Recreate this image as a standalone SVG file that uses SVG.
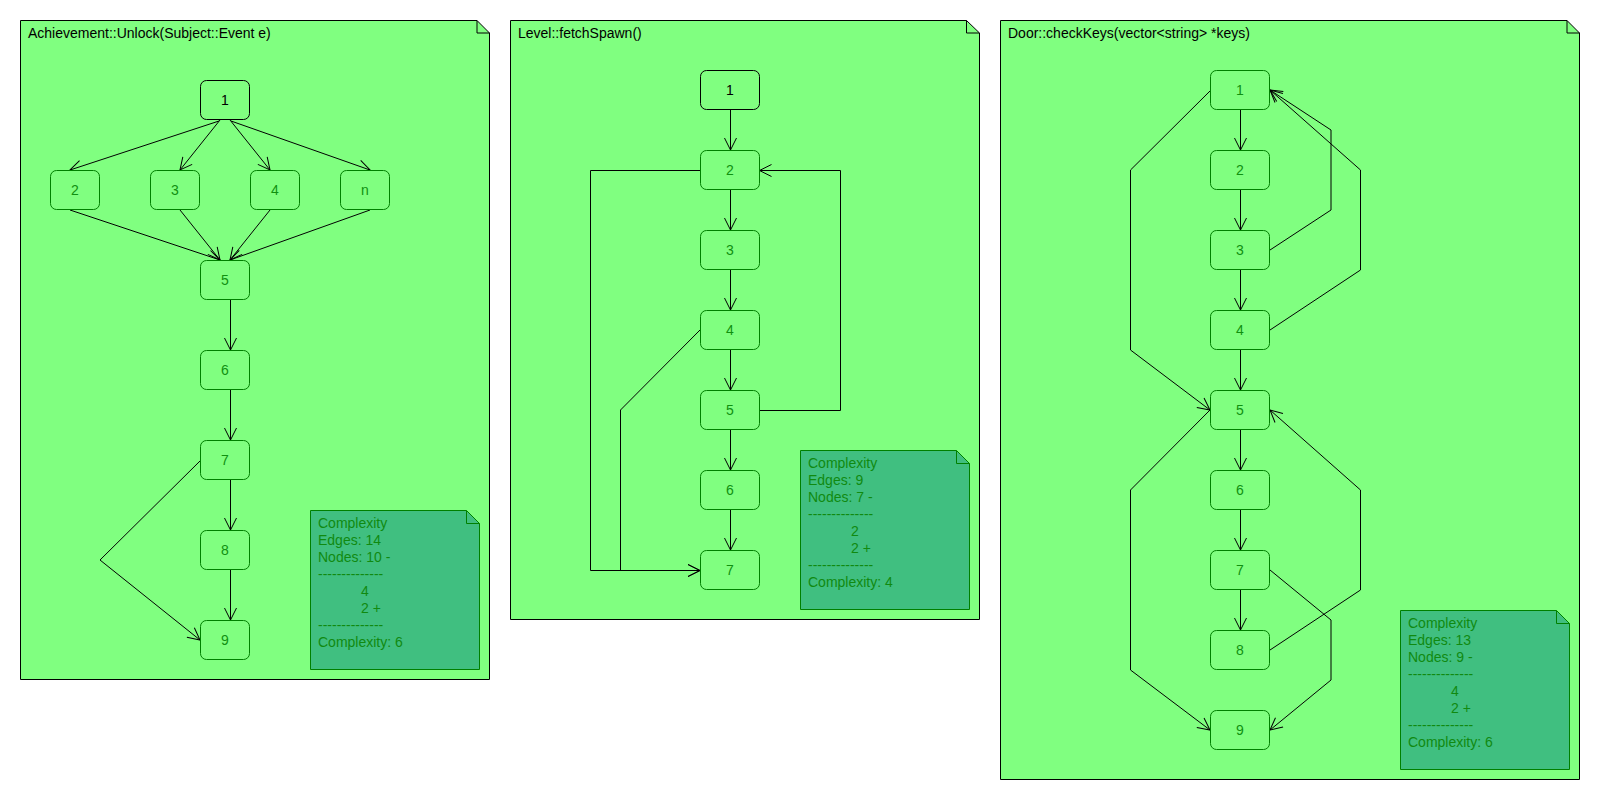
<svg xmlns="http://www.w3.org/2000/svg" width="1600" height="800" viewBox="0 0 1600 800">
<defs>
<style>
.frame{fill:#80FF80;stroke:#000;stroke-width:1}
.fold{fill:none;stroke:#000;stroke-width:1}
.note{fill:#40BF80;stroke:#008000;stroke-width:1}
.nfold{fill:none;stroke:#008000;stroke-width:1}
.node{fill:#80FF80;stroke:#008000;stroke-width:1}
.start{fill:#80FF80;stroke:#000;stroke-width:1}
text{font-family:"Liberation Sans",Arial,sans-serif;font-size:14px}
.title{fill:#000}
.lbl{fill:#109010;text-anchor:middle}
.lblb{fill:#000;text-anchor:middle}
.nt{fill:#108A10}
.edge{fill:none;stroke:#000;stroke-width:1;marker-end:url(#arr)}
</style>
<marker id="arr" markerUnits="userSpaceOnUse" markerWidth="14" markerHeight="14" refX="12" refY="6" orient="auto" overflow="visible">
<path d="M0,0 L12,6 L0,12" fill="none" stroke="#000" stroke-width="1"/>
</marker>
</defs>

<g id="frame1">
<path class="frame" d="M20.5,20.5 H477 L489.5,33 V679.5 H20.5 Z"/>
<path class="fold" d="M477,20.5 V33 H489.5"/>
<text class="title" x="28" y="38">Achievement::Unlock(Subject::Event e)</text>
</g>
<g id="frame2">
<path class="frame" d="M510.5,20.5 H966.5 L979.5,33 V619.5 H510.5 Z"/>
<path class="fold" d="M966.5,20.5 V33 H979.5"/>
<text class="title" x="518" y="38">Level::fetchSpawn()</text>
</g>
<g id="frame3">
<path class="frame" d="M1000.5,20.5 H1567 L1579.5,33 V779.5 H1000.5 Z"/>
<path class="fold" d="M1567,20.5 V33 H1579.5"/>
<text class="title" x="1008" y="38">Door::checkKeys(vector&lt;string&gt; *keys)</text>
</g>

<g id="connectors">
<!-- frame 1 -->
<path class="edge" d="M219,121 L70,170"/>
<path class="edge" d="M220,120 L180,170"/>
<path class="edge" d="M230,120 L270,170"/>
<path class="edge" d="M231,121 L370,170"/>
<path class="edge" d="M70,210 L220,260"/>
<path class="edge" d="M180,210 L220,260"/>
<path class="edge" d="M270,210 L230,260"/>
<path class="edge" d="M370,210 L230,260"/>
<path class="edge" d="M230.5,300 V350"/>
<path class="edge" d="M230.5,390 V440"/>
<path class="edge" d="M230.5,480 V530"/>
<path class="edge" d="M230.5,570 V620"/>
<path class="edge" d="M200,461 L100,560 L200,640"/>
<!-- frame 2 -->
<path class="edge" d="M730.5,110 V150"/>
<path class="edge" d="M730.5,190 V230"/>
<path class="edge" d="M730.5,270 V310"/>
<path class="edge" d="M730.5,350 V390"/>
<path class="edge" d="M730.5,430 V470"/>
<path class="edge" d="M730.5,510 V550"/>
<path class="edge" d="M700,170.5 H590.5 V570.5 H700"/>
<path class="edge" d="M700,330 L620.5,410 V570.5 H700"/>
<path class="edge" d="M759,410.5 H840.5 V170.5 H759.5"/>
<!-- frame 3 -->
<path class="edge" d="M1240.5,110 V150"/>
<path class="edge" d="M1240.5,190 V230"/>
<path class="edge" d="M1240.5,270 V310"/>
<path class="edge" d="M1240.5,350 V390"/>
<path class="edge" d="M1240.5,430 V470"/>
<path class="edge" d="M1240.5,510 V550"/>
<path class="edge" d="M1240.5,590 V630"/>
<path class="edge" d="M1210,91 L1130.5,170 V350 L1210,410"/>
<path class="edge" d="M1270,250 L1331,210 V130 L1270,90"/>
<path class="edge" d="M1270,330 L1360.5,270 V170 L1270,90"/>
<path class="edge" d="M1210,410 L1130.5,490 V670 L1210,730"/>
<path class="edge" d="M1270,650 L1360.5,590 V490 L1270,410"/>
<path class="edge" d="M1270,570 L1331,620 V680 L1270,730"/>
</g>

<!-- frame 1 nodes -->
<g id="f1n1"><rect class="start" x="200.5" y="80.5" width="49" height="39" rx="6"/><text class="lblb" x="225" y="105">1</text></g>
<g id="f1n2"><rect class="node" x="50.5" y="170.5" width="49" height="39" rx="6"/><text class="lbl" x="75" y="195">2</text></g>
<g id="f1n3"><rect class="node" x="150.5" y="170.5" width="49" height="39" rx="6"/><text class="lbl" x="175" y="195">3</text></g>
<g id="f1n4"><rect class="node" x="250.5" y="170.5" width="49" height="39" rx="6"/><text class="lbl" x="275" y="195">4</text></g>
<g id="f1nn"><rect class="node" x="340.5" y="170.5" width="49" height="39" rx="6"/><text class="lbl" x="365" y="195">n</text></g>
<g id="f1n5"><rect class="node" x="200.5" y="260.5" width="49" height="39" rx="6"/><text class="lbl" x="225" y="285">5</text></g>
<g id="f1n6"><rect class="node" x="200.5" y="350.5" width="49" height="39" rx="6"/><text class="lbl" x="225" y="375">6</text></g>
<g id="f1n7"><rect class="node" x="200.5" y="440.5" width="49" height="39" rx="6"/><text class="lbl" x="225" y="465">7</text></g>
<g id="f1n8"><rect class="node" x="200.5" y="530.5" width="49" height="39" rx="6"/><text class="lbl" x="225" y="555">8</text></g>
<g id="f1n9"><rect class="node" x="200.5" y="620.5" width="49" height="39" rx="6"/><text class="lbl" x="225" y="645">9</text></g>

<g id="f1note">
<path class="note" d="M310.5,510.5 H466.5 L479.5,523.5 V669.5 H310.5 Z"/>
<path class="nfold" d="M466.5,510.5 V523.5 H479.5"/>
<text class="nt" x="318" y="528">Complexity</text>
<text class="nt" x="318" y="545">Edges: 14</text>
<text class="nt" x="318" y="562">Nodes: 10 -</text>
<text class="nt" x="318" y="579">--------------</text>
<text class="nt" x="361" y="596">4</text>
<text class="nt" x="361" y="613">2 +</text>
<text class="nt" x="318" y="630">--------------</text>
<text class="nt" x="318" y="647">Complexity: 6</text>
</g>

<!-- frame 2 nodes -->
<g id="f2n1"><rect class="start" x="700.5" y="70.5" width="59" height="39" rx="6"/><text class="lblb" x="730" y="95">1</text></g>
<g id="f2n2"><rect class="node" x="700.5" y="150.5" width="59" height="39" rx="6"/><text class="lbl" x="730" y="175">2</text></g>
<g id="f2n3"><rect class="node" x="700.5" y="230.5" width="59" height="39" rx="6"/><text class="lbl" x="730" y="255">3</text></g>
<g id="f2n4"><rect class="node" x="700.5" y="310.5" width="59" height="39" rx="6"/><text class="lbl" x="730" y="335">4</text></g>
<g id="f2n5"><rect class="node" x="700.5" y="390.5" width="59" height="39" rx="6"/><text class="lbl" x="730" y="415">5</text></g>
<g id="f2n6"><rect class="node" x="700.5" y="470.5" width="59" height="39" rx="6"/><text class="lbl" x="730" y="495">6</text></g>
<g id="f2n7"><rect class="node" x="700.5" y="550.5" width="59" height="39" rx="6"/><text class="lbl" x="730" y="575">7</text></g>

<g id="f2note">
<path class="note" d="M800.5,450.5 H956.5 L969.5,463.5 V609.5 H800.5 Z"/>
<path class="nfold" d="M956.5,450.5 V463.5 H969.5"/>
<text class="nt" x="808" y="468">Complexity</text>
<text class="nt" x="808" y="485">Edges: 9</text>
<text class="nt" x="808" y="502">Nodes: 7 -</text>
<text class="nt" x="808" y="519">--------------</text>
<text class="nt" x="851" y="536">2</text>
<text class="nt" x="851" y="553">2 +</text>
<text class="nt" x="808" y="570">--------------</text>
<text class="nt" x="808" y="587">Complexity: 4</text>
</g>

<!-- frame 3 nodes -->
<g id="f3n1"><rect class="node" x="1210.5" y="70.5" width="59" height="39" rx="6"/><text class="lbl" x="1240" y="95">1</text></g>
<g id="f3n2"><rect class="node" x="1210.5" y="150.5" width="59" height="39" rx="6"/><text class="lbl" x="1240" y="175">2</text></g>
<g id="f3n3"><rect class="node" x="1210.5" y="230.5" width="59" height="39" rx="6"/><text class="lbl" x="1240" y="255">3</text></g>
<g id="f3n4"><rect class="node" x="1210.5" y="310.5" width="59" height="39" rx="6"/><text class="lbl" x="1240" y="335">4</text></g>
<g id="f3n5"><rect class="node" x="1210.5" y="390.5" width="59" height="39" rx="6"/><text class="lbl" x="1240" y="415">5</text></g>
<g id="f3n6"><rect class="node" x="1210.5" y="470.5" width="59" height="39" rx="6"/><text class="lbl" x="1240" y="495">6</text></g>
<g id="f3n7"><rect class="node" x="1210.5" y="550.5" width="59" height="39" rx="6"/><text class="lbl" x="1240" y="575">7</text></g>
<g id="f3n8"><rect class="node" x="1210.5" y="630.5" width="59" height="39" rx="6"/><text class="lbl" x="1240" y="655">8</text></g>
<g id="f3n9"><rect class="node" x="1210.5" y="710.5" width="59" height="39" rx="6"/><text class="lbl" x="1240" y="735">9</text></g>

<g id="f3note">
<path class="note" d="M1400.5,610.5 H1556.5 L1569.5,623.5 V769.5 H1400.5 Z"/>
<path class="nfold" d="M1556.5,610.5 V623.5 H1569.5"/>
<text class="nt" x="1408" y="628">Complexity</text>
<text class="nt" x="1408" y="645">Edges: 13</text>
<text class="nt" x="1408" y="662">Nodes: 9 -</text>
<text class="nt" x="1408" y="679">--------------</text>
<text class="nt" x="1451" y="696">4</text>
<text class="nt" x="1451" y="713">2 +</text>
<text class="nt" x="1408" y="730">--------------</text>
<text class="nt" x="1408" y="747">Complexity: 6</text>
</g>
</svg>
